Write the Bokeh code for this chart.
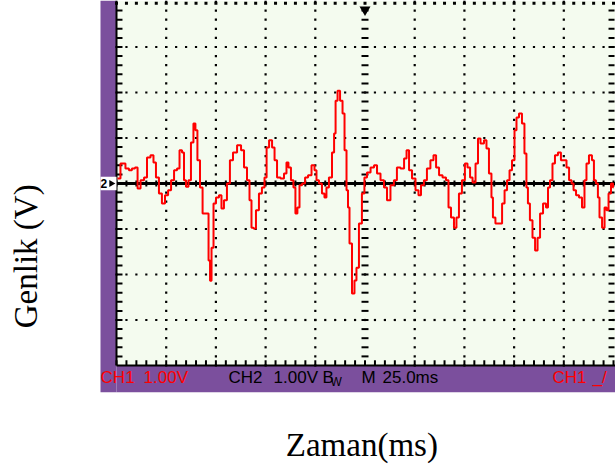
import numpy as np
from bokeh.plotting import figure
from bokeh.models import Range1d, Label
from bokeh.embed import file_html
from bokeh.resources import INLINE

# ---- data (read from the oscilloscope capture) ----
time_ms = [0.5, 3.5, 5.5, 7.0, 8.5, 10.1, 11.1, 13.1, 14.6, 16.1, 18.1, 19.1, 20.6, 22.1, 23.6,
           25.2, 26.7, 28.2, 29.7, 31.2, 32.2, 33.7, 34.2, 35.7, 36.7, 38.2, 39.2, 40.2, 41.2,
           42.8, 43.8, 45.8, 46.8, 47.3, 48.3, 49.3, 50.8, 52.3, 53.3, 54.8, 56.3, 57.8, 59.4,
           61.9, 63.4, 64.9, 66.4, 67.4, 68.4, 69.4, 70.9, 72.4, 73.9, 75.0, 76.0, 77.5, 79.0,
           80.0, 81.5, 83.5, 85.0, 86.0, 87.0, 88.5, 89.5, 90.5, 91.5, 92.6, 94.1, 95.6, 97.1,
           99.1, 100.1, 101.1, 102.6, 104.1, 105.1, 106.1, 107.6, 109.2, 109.7, 110.7, 111.7,
           113.2, 114.2, 115.2, 116.2, 116.7, 117.7, 119.2, 120.2, 121.2, 122.7, 124.2, 125.2,
           126.8, 128.8, 130.3, 131.8, 133.8, 135.3, 136.8, 138.8, 140.3, 141.8, 143.9, 145.4,
           146.4, 147.9, 149.4, 151.4, 152.4, 153.9, 155.4, 156.9, 158.9, 160.0, 161.5, 163.0,
           165.0, 166.5, 167.5, 169.0, 170.5, 171.5, 173.0, 174.5, 176.0, 177.1, 178.6, 179.6,
           181.6, 182.1, 184.1, 185.6, 186.6, 188.1, 189.1, 189.6, 191.6, 193.2, 194.7, 195.7,
           197.2, 198.2, 199.7, 200.7, 201.7, 203.2, 204.7, 205.7, 206.7, 207.2, 208.7, 209.8,
           211.3, 212.3, 213.8, 215.3, 216.8, 217.3, 218.8, 219.8, 221.3, 222.8, 224.3, 225.8,
           226.9, 228.4, 229.4, 230.4, 231.9, 233.4, 234.9, 235.9, 236.9, 238.4, 239.9, 240.4,
           241.9, 242.4, 243.5, 245.0, 246.0, 247.0, 248.0, 249.5, 250.0]
ch1_volts = [0.11, 0.44, 0.33, 0.29, 0.33, 0.35, -0.11, 0.07, 0.13, 0.57, 0.62, 0.46, 0.13, -0.22,
             -0.44, -0.26, -0.15, 0.07, 0.29, 0.33, 0.73, 0.68, 0.07, -0.07, 0.07, 0.90, 1.32, 1.17,
             0.51, -0.09, -0.66, -0.66, -1.69, -2.14, -1.41, -0.44, -0.31, -0.26, -0.55, -0.37, 0.00,
             0.51, 0.68, 0.84, 0.73, 0.35, 0.07, -0.37, -0.97, -0.99, -0.59, -0.22, -0.09, 0.13, 0.79,
             0.95, 0.79, 0.51, 0.13, 0.11, 0.22, 0.46, 0.35, 0.07, -0.09, -0.66, -0.53, -0.04, 0.00,
             0.13, 0.18, 0.40, 0.29, 0.07, 0.00, -0.22, -0.31, -0.09, 0.13, 0.68, 1.10, 1.82, 2.04,
             1.82, 1.54, 0.73, -0.15, -0.53, -1.32, -2.42, -2.13, -1.85, -0.88, -0.22, 0.13, 0.24,
             0.35, 0.40, 0.22, 0.07, -0.09, -0.37, -0.04, 0.07, 0.35, 0.33, 0.55, 0.73, 0.29, 0.11,
             -0.15, -0.26, -0.04, 0.07, 0.33, 0.51, 0.62, 0.35, 0.18, 0.13, 0.07, -0.53, -0.75, -0.97,
             -0.75, -0.22, 0.07, 0.44, 0.35, 0.13, 0.02, 0.44, 0.99, 0.88, 0.95, 0.77, 0.22, -0.31,
             -0.75, -0.88, -0.88, -0.44, -0.15, 0.07, 0.29, 0.51, 1.17, 1.45, 1.54, 1.32, 0.66,
             -0.09, -0.44, -0.81, -1.19, -1.47, -1.19, -0.66, -0.44, -0.53, -0.09, 0.07, 0.44, 0.62,
             0.68, 0.51, 0.51, 0.35, 0.07, 0.00, -0.15, -0.26, -0.31, -0.53, 0.07, 0.44, 0.62, 0.51,
             0.07, 0.00, -0.31, -0.75, -0.97, -0.53, -0.59, -0.22, 0.00, -0.09]
ch2_time = [0, 251]
ch2_volts = [0, 0]

x_title = "Zaman(ms)"
y_title = "Genlik (V)"
status_texts = ["CH1", "1.00V", "CH2", "1.00V", "B", "W", "M", "25.0ms", "CH1", "_/"]

# ---- screen geometry (10 x 8 divisions, 25 ms/div, 1 V/div) ----
T_MIN, T_MAX = 0, 250
V_MIN, V_MAX = -4, 4
X_LO, X_HI = -58.35, 251.0      # whole canvas in data units
Y_LO, Y_HI = -6.264, 4.022
BEZEL_L = -8.05
BEZEL_B = -4.59
PURPLE = "#7B4F9D"
SCREEN_BG = "#F4FBEF"

p = figure(width=615, height=468, output_backend="svg", toolbar_location=None,
           x_range=Range1d(X_LO, X_HI), y_range=Range1d(Y_LO, Y_HI),
           min_border_left=0, min_border_right=0, min_border_top=0, min_border_bottom=0)
p.axis.visible = False
p.grid.visible = False
p.outline_line_color = None
p.background_fill_color = "white"
p.border_fill_color = "white"

# screen background and purple bezel
p.quad(left=[T_MIN], right=[X_HI], bottom=[V_MIN], top=[Y_HI], fill_color=SCREEN_BG, line_color=None)
p.quad(left=[BEZEL_L, T_MIN], right=[T_MIN, X_HI], bottom=[BEZEL_B, BEZEL_B], top=[Y_HI, V_MIN],
       fill_color=PURPLE, line_color=None)

minor_v = np.round(np.arange(V_MIN, V_MAX + 0.001, 0.2), 2)
minor_t = np.arange(T_MIN, T_MAX + 0.001, 5.0)
grid_t = [25, 50, 75, 100, 150, 175, 200, 225]
grid_v = [-3, -2, -1, 1, 2, 3]

# dotted graticule
p.scatter(np.repeat(grid_t, len(minor_v)), np.tile(minor_v, len(grid_t)),
          marker="square", size=2.2, fill_color="black", line_color=None)
p.scatter(np.tile(minor_t, len(grid_v)), np.repeat(grid_v, len(minor_t)),
          marker="square", size=2.2, fill_color="black", line_color=None)
p.scatter(minor_t, np.full(len(minor_t), 3.96), marker="square", size=3,
          fill_color="black", line_color=None)

# center vertical axis ticks
inner_v = minor_v[(minor_v > V_MIN) & (minor_v < V_MAX)]
p.scatter(np.full(len(inner_v), 125), inner_v, marker="dash", size=7, line_color="black", line_width=2)
# left edge
p.segment(x0=[0], y0=[V_MIN], x1=[0], y1=[Y_HI], line_color="black", line_width=2)
p.scatter(np.full(len(inner_v), 1.5), inner_v, marker="dash", size=6, line_color="black", line_width=2)
# right edge
p.scatter(np.full(len(inner_v), 249.0), inner_v, marker="dash", size=6, line_color="black", line_width=2)
# bottom edge
p.segment(x0=[0], y0=[V_MIN], x1=[X_HI], y1=[V_MIN], line_color="black", line_width=2)
p.scatter(minor_t, np.full(len(minor_t), V_MIN + 0.06), marker="dash", angle=np.pi / 2, size=5,
          line_color="black", line_width=2)

# CH2 trace (flat, black)
p.line(ch2_time, ch2_volts, line_color="black", line_width=3)
p.scatter(minor_t, np.zeros(len(minor_t)), marker="dash", angle=np.pi / 2, size=6,
          line_color="black", line_width=2)

# CH1 trace (stair-stepped like the scope's pixel display)
p.step(time_ms, ch1_volts, mode="center", line_color="#FF0000", line_width=2)

# markers: trigger position and CH2 ground
p.scatter([125], [3.82], marker="inverted_triangle", size=11, fill_color="black", line_color=None)
p.quad(left=[BEZEL_L], right=[0], bottom=[-0.15], top=[0.15], fill_color="white", line_color=None)
p.add_layout(Label(x=-8.0, y=0, text="2", text_font="Liberation Sans", text_font_style="bold",
                   text_font_size="12px", text_baseline="middle", text_color="black"))
p.scatter([-2.6], [0], marker="triangle", angle=-np.pi / 2, size=7, fill_color="black", line_color=None)

# status bar
status_pos = [(-8.0, "#FF0000"), (13.6, "#FF0000"), (56.3, "black"), (79.0, "black"),
              (103.6, "black"), (107.6, "black"), (123.2, "black"), (133.8, "black"),
              (219.3, "#FF0000"), (239.5, "#FF0000")]
for txt, (tx, col) in zip(status_texts, status_pos):
    size = "12px" if txt == "W" else "17px"
    ty = -4.36 if txt == "W" else -4.26
    p.add_layout(Label(x=tx, y=ty, text=txt, text_font="Liberation Sans", text_font_size=size,
                       text_color=col, text_baseline="alphabetic"))

# outer titles
p.add_layout(Label(x=123.4, y=-5.74, text=x_title, text_font="Liberation Serif",
                   text_font_size="33px", text_align="center", text_baseline="alphabetic",
                   text_color="black"))
p.add_layout(Label(x=-45.5, y=-1.60, text=y_title, text_font="Liberation Serif",
                   text_font_size="33px", text_align="center", text_baseline="alphabetic",
                   angle=np.pi / 2, text_color="black"))

open("out.html", "w").write(file_html(p, INLINE))
